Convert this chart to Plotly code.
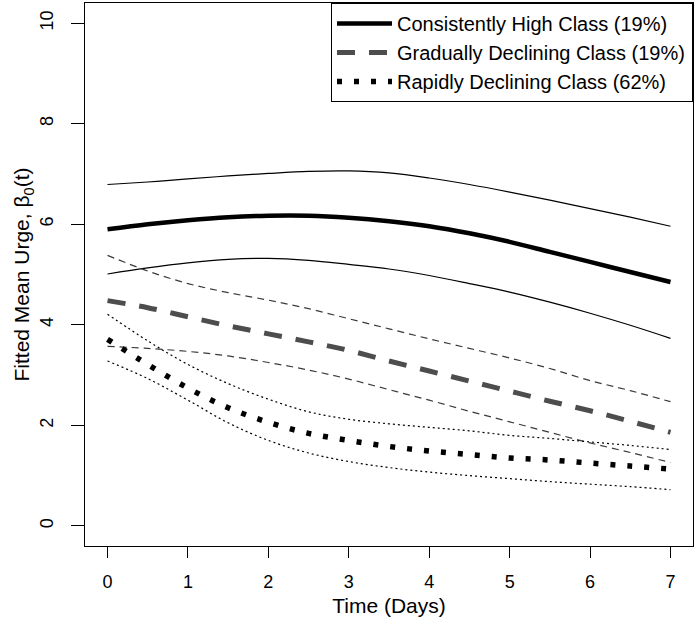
import plotly.graph_objects as go

# ---- data ----
time = [0, 0.5, 1, 1.5, 2, 2.5, 3, 3.5, 4, 4.5, 5, 5.5, 6, 6.5, 7]

high_mean  = [5.90, 6.00, 6.08, 6.14, 6.17, 6.17, 6.13, 6.06, 5.96, 5.82, 5.65, 5.45, 5.25, 5.05, 4.85]
high_upper = [6.79, 6.84, 6.90, 6.96, 7.01, 7.05, 7.06, 7.02, 6.92, 6.79, 6.64, 6.48, 6.31, 6.14, 5.96]
high_lower = [5.01, 5.13, 5.23, 5.30, 5.32, 5.28, 5.20, 5.11, 4.98, 4.82, 4.65, 4.45, 4.23, 3.99, 3.73]

grad_mean  = [4.48, 4.34, 4.16, 3.98, 3.82, 3.66, 3.49, 3.28, 3.08, 2.88, 2.68, 2.48, 2.29, 2.08, 1.86]
grad_upper = [5.38, 5.07, 4.82, 4.64, 4.49, 4.32, 4.12, 3.92, 3.72, 3.53, 3.34, 3.13, 2.89, 2.69, 2.47]
grad_lower = [3.57, 3.53, 3.47, 3.38, 3.25, 3.10, 2.92, 2.71, 2.50, 2.28, 2.07, 1.86, 1.65, 1.46, 1.26]

rapid_mean  = [3.71, 3.21, 2.74, 2.35, 2.06, 1.84, 1.70, 1.58, 1.49, 1.42, 1.35, 1.31, 1.25, 1.19, 1.13]
rapid_upper = [4.21, 3.68, 3.21, 2.83, 2.52, 2.27, 2.12, 2.03, 1.96, 1.89, 1.80, 1.74, 1.67, 1.60, 1.52]
rapid_lower = [3.28, 2.93, 2.50, 2.05, 1.70, 1.45, 1.28, 1.16, 1.07, 1.00, 0.94, 0.88, 0.83, 0.78, 0.72]

class_names = ["Consistently High Class (19%)",
               "Gradually Declining Class (19%)",
               "Rapidly Declining Class (62%)"]

x_ticks = [0, 1, 2, 3, 4, 5, 6, 7]
y_ticks = [0, 2, 4, 6, 8, 10]

FONT = "Liberation Sans"

fig = go.Figure()

def band(y, color, dash, width=1.2):
    fig.add_trace(go.Scatter(x=time, y=y, mode="lines", showlegend=False, hoverinfo="skip",
                             line=dict(color=color, width=width, dash=dash, shape="spline")))

# confidence bounds
band(high_upper, "black", "solid")
band(high_lower, "black", "solid")
band(grad_upper, "#3a3a3a", "7px,5px")
band(grad_lower, "#3a3a3a", "7px,5px")
band(rapid_upper, "black", "2px,3px")
band(rapid_lower, "black", "2px,3px")

# class means
fig.add_trace(go.Scatter(x=time, y=high_mean, mode="lines", name=class_names[0],
                         line=dict(color="black", width=4.5, shape="spline")))
fig.add_trace(go.Scatter(x=time, y=grad_mean, mode="lines", name=class_names[1],
                         line=dict(color="#4d4d4d", width=5, dash="18px,14px", shape="spline")))
fig.add_trace(go.Scatter(x=time, y=rapid_mean, mode="lines", name=class_names[2],
                         line=dict(color="black", width=5.5, dash="5px,12px", shape="spline")))

fig.update_layout(
    width=699, height=624,
    margin=dict(l=85, r=6, t=3, b=78),
    paper_bgcolor="white", plot_bgcolor="white",
    font=dict(family=FONT, color="black", size=18),
    legend=dict(orientation="h", entrywidth=290, entrywidthmode="pixels",
                x=1, xanchor="right", y=1.0, yanchor="top",
                bordercolor="black", borderwidth=1, bgcolor="white",
                font=dict(size=20, family=FONT), itemwidth=55,
                tracegroupgap=0),
    xaxis=dict(range=[-0.28, 7.28], tickvals=x_ticks, ticktext=[str(v) for v in x_ticks],
               automargin=False,
               ticks="outside", ticklen=11, tickwidth=1, tickcolor="black",
               showline=True, linecolor="black", linewidth=1, mirror=True,
               showgrid=False, zeroline=False, tickfont=dict(size=18),
               ticklabelstandoff=8,
               title=dict(text="Time (Days)", font=dict(size=21), standoff=7)),
    yaxis=dict(range=[-0.4, 10.4], tickvals=y_ticks, ticktext=[str(v) for v in y_ticks],
               automargin=False,
               ticks="outside", ticklen=13, tickwidth=1, tickcolor="black", tickangle=-90,
               showline=True, linecolor="black", linewidth=1, mirror=True,
               showgrid=False, zeroline=False, tickfont=dict(size=18),
               ticklabelstandoff=11,
               title=dict(text="Fitted Mean Urge, β<sub>0</sub>(t)", font=dict(size=21), standoff=0)),
)

fig.write_html("out.html", config={"displayModeBar": False},
               post_script="document.body.style.margin='0';document.body.style.overflow='hidden';")
